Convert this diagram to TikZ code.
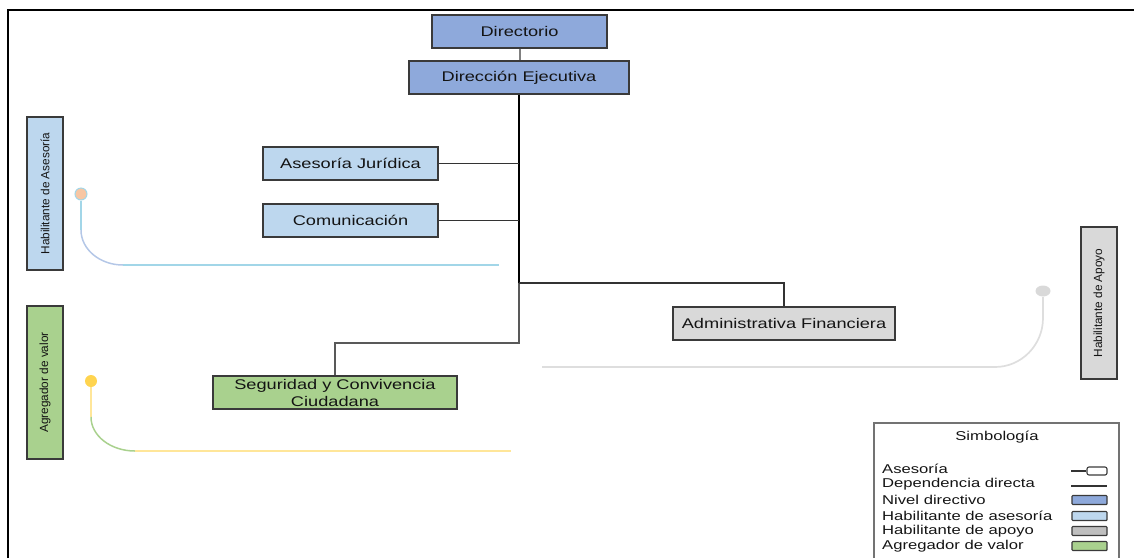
\documentclass[tikz,border=0pt]{standalone}
\usepackage{fontspec}
\usetikzlibrary{shapes.geometric}
\setmainfont{Liberation Sans}
\newfontfamily\wfont[FakeStretch=1.3]{Liberation Sans}
\definecolor{nivel}{HTML}{8EA9DB}
\definecolor{ases}{HTML}{BDD7EE}
\definecolor{apoyo}{HTML}{D9D9D9}
\definecolor{apoyoleg}{HTML}{BFBFBF}
\definecolor{agreg}{HTML}{A9D18E}
\definecolor{bordc}{HTML}{3A3A3A}
\definecolor{txt}{HTML}{141414}
\definecolor{cyanl}{HTML}{A2D6E8}
\definecolor{lav}{HTML}{B4C7E7}
\definecolor{peach}{HTML}{F7C6A3}
\definecolor{yel}{HTML}{FFD44F}
\definecolor{yell}{HTML}{FFE699}
\definecolor{grl}{HTML}{DEDEDE}
\begin{document}
\begin{tikzpicture}[x=1pt,y=-1pt,
  box/.style={draw=bordc, line width=1.4pt, inner sep=0pt, text=txt,
    font=\wfont\fontsize{14}{17}\selectfont, align=center},
  vbox/.style={draw=bordc, line width=1.4pt, inner sep=0pt, text=txt, rotate=90,
    minimum height=36pt, font=\fontsize{11.8}{13}\selectfont},
  leg/.style={anchor=west, inner sep=0pt, text=txt, font=\wfont\fontsize{12.8}{14}\selectfont},
  swatch/.style={draw=bordc, line width=1.1pt, minimum width=35pt, minimum height=9pt, inner sep=0pt, rounded corners=0.8pt},
  dep/.style={draw=black!80, line width=1.3pt},
]
\useasboundingbox (0,0) rectangle (1134,558);
% outer frame
\draw[line width=2.2pt, black] (8,558) |- (1134,10);

% main boxes
\node[box, fill=nivel, minimum width=175pt, minimum height=33pt] (dir) at (519.5,31.5) {Directorio};
\node[box, fill=nivel, minimum width=220pt, minimum height=33pt] (dej) at (519,77.5) {Dirección Ejecutiva};
\node[box, fill=ases, minimum width=175pt, minimum height=33pt] (aj) at (350.5,163.5) {Asesoría Jurídica};
\node[box, fill=ases, minimum width=175pt, minimum height=33pt] (com) at (350.5,220.5) {Comunicación};
\node[box, fill=apoyo, minimum width=222pt, minimum height=33pt] (adm) at (784,323.5) {Administrativa Financiera};
\node[box, fill=agreg, minimum width=244pt, minimum height=33pt] (seg) at (335,392.5) {Seguridad y Convivencia\\Ciudadana};

% vertical category boxes
\node[vbox, fill=ases, minimum width=153pt] (hase) at (45,193.5) {Habilitante de Asesoría};
\node[vbox, fill=agreg, minimum width=153pt] (agv) at (45,382.5) {Agregador de valor};
\node[vbox, fill=apoyo, minimum width=152pt] (hapo) at (1099,303) {Habilitante de Apoyo};

% connectors
\coordinate (tj) at (519,283);
\coordinate (tb) at (519,343);
\draw[draw=black!50, line width=2pt] (dir.south) -- (dir.south |- dej.north);
\draw[black, line width=2.4pt] (dej.south -| tj) -- (tj);
\draw[draw=black!65, line width=2pt] (tj) -- (tb) -| (seg.north);
\draw[dep] (aj.east) -- (aj.east -| tj);
\draw[dep] (com.east) -- (com.east -| tj);
\draw[dep] (tj) -| (adm.north);

% Habilitante de asesoria line
\node[circle, fill=peach, draw=cyanl, line width=1pt, minimum size=12pt, inner sep=0pt] (d1) at (81,194) {};
\coordinate (c1a) at (81,230);
\coordinate (c1b) at (123,265);
\coordinate (c1c) at (499,265);
\draw[cyanl, line width=1.5pt] (d1.south) -- (c1a);
\draw[lav, line width=1.5pt] (c1a) .. controls (81,249.3) and (99.8,265) .. (c1b);
\draw[cyanl, line width=1.5pt] (c1b) -- (c1c);

% Agregador de valor line
\node[circle, fill=yel, minimum size=12pt, inner sep=0pt] (d2) at (91,381) {};
\coordinate (c2a) at (91,417);
\coordinate (c2b) at (135,451);
\coordinate (c2c) at (511,451);
\draw[yell, line width=1.5pt] (d2.south) -- (c2a);
\draw[agreg, line width=1.5pt] (c2a) .. controls (91,435.8) and (110.7,451) .. (c2b);
\draw[yell, line width=1.5pt] (c2b) -- (c2c);

% Habilitante de apoyo line
\node[ellipse, fill=apoyo, minimum width=15pt, minimum height=11pt, inner sep=0pt] (d3) at (1043,291) {};
\coordinate (c3a) at (1043,318);
\coordinate (c3b) at (995,367);
\coordinate (c3c) at (542,367);
\draw[grl, line width=1.7pt] (d3.south) -- (c3a);
\draw[grl, line width=1.7pt] (c3a) .. controls (1043,345) and (1021.5,367) .. (c3b);
\draw[grl, line width=1.7pt] (c3b) -- (c3c);

% legend
\draw[draw=black!55, line width=1.2pt] (874,558) |- (1119,423) -- (1119,558);
\node[inner sep=0pt, text=txt, font=\wfont\fontsize{12.8}{14}\selectfont] (lt) at (997,437) {Simbología};
\node[leg] (l1) at (882,469) {Asesoría};
\node[leg] (l2) at (882,484) {Dependencia directa};
\node[leg] (l3) at (882,500) {Nivel directivo};
\node[leg] (l4) at (882,516) {Habilitante de asesoría};
\node[leg] (l5) at (882,531) {Habilitante de apoyo};
\node[leg] (l6) at (882,546) {Agregador de valor};
\node[draw=bordc, line width=1.1pt, rounded corners=2pt, minimum width=20pt, minimum height=8pt, inner sep=0pt] (s1) at (1097,471) {};
\coordinate (s1l) at (1071,471);
\draw[black!80, line width=1.1pt] (s1l) -- (s1.west);
\coordinate (s2l) at (1071,486);
\coordinate (s2r) at (1107,486);
\draw[black!80, line width=1.1pt] (s2l) -- (s2r);
\node[swatch, fill=nivel] (s3) at (1089.5,500) {};
\node[swatch, fill=ases] (s4) at (1089.5,516) {};
\node[swatch, fill=apoyoleg] (s5) at (1089.5,531) {};
\node[swatch, fill=agreg] (s6) at (1089.5,546) {};
\end{tikzpicture}
\end{document}
